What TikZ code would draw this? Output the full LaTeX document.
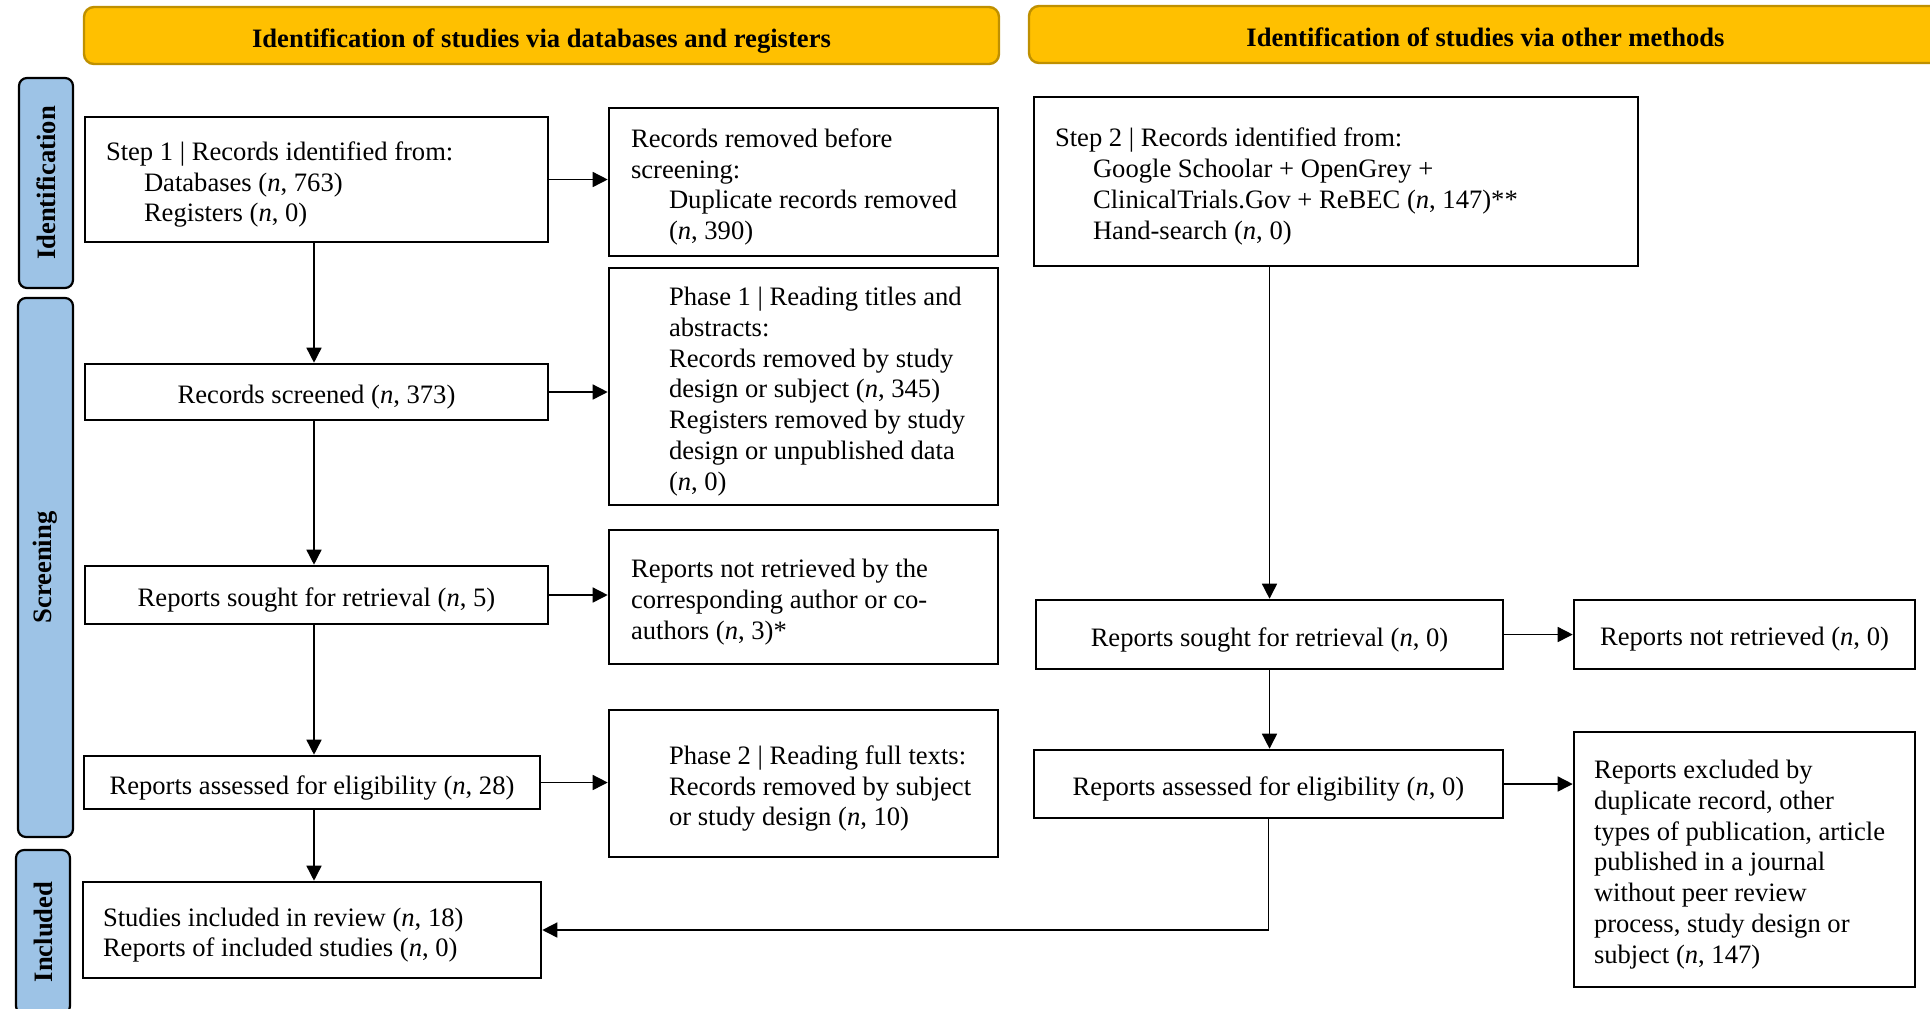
\documentclass[tikz,border=0pt]{standalone}
\usepackage{fontspec}
\setmainfont{Liberation Serif}
\usetikzlibrary{arrows.meta}
\definecolor{gold}{HTML}{FFC000}
\definecolor{goldedge}{HTML}{BF9000}
\definecolor{phase}{HTML}{9DC3E6}

% indentation of the sub-lines inside a box
\newcommand\ind{\hspace*{19pt}}
% box given by its corners (x1,y1)-(x2,y2) in pixel units and a left padding;
% the optional argument chooses the alignment of the lines
\newcommand\flowbox[8][\raggedright\leftskip=\fbp pt\relax]{%
  \pgfmathsetmacro\fbw{(#5-#3)*0.5}%
  \pgfmathsetmacro\fbh{(#6-#4)*0.5}%
  \pgfmathsetmacro\fbp{#7*0.5}%
  \node[flow] (#2) at ({(#3+#5)/2},{(#4+#6)/2})
    {\parbox[c][\fbh pt][c]{\fbw pt}{#1\vspace*{5pt}#8}};%
}

\begin{document}
\begin{tikzpicture}[x=0.5pt,y=-0.5pt,
  font=\fontsize{13.3}{15.4}\selectfont,
  flow/.style={draw=black, line width=1.3pt, rectangle, inner sep=0pt},
  header/.style={draw=goldedge, fill=gold, line width=1.2pt, rounded corners=5pt,
    inner sep=0pt, text height=11.5pt, text depth=0pt,
    font=\fontsize{13.3}{15.4}\selectfont\bfseries},
  stage/.style={draw=black, fill=phase, line width=1.1pt, rounded corners=4pt,
    inner sep=0pt, rotate=90, font=\fontsize{13.3}{15.4}\selectfont\bfseries},
  link/.style={line width=0.75pt, -{Triangle[length=7.5pt,width=7.5pt]}},
]
\clip (0,0) rectangle (1930,1008);
\useasboundingbox (0,0) rectangle (1930,1008);

% column headers
\node[header, minimum width=457.5pt, minimum height=28.5pt] (hdb) at (541.5,35.5)
  {Identification of studies via databases and registers};
\node[header, minimum width=456.5pt, minimum height=28.5pt] (hdo) at (1485.5,34.5)
  {Identification of studies via other methods};

% stage labels
\node[stage, minimum width=105pt, minimum height=27pt] (sid) at (46,183) {Identification};
\node[stage, minimum width=269.5pt, minimum height=27.5pt] (ssc) at (45.5,567.5) {Screening};
\node[stage, minimum width=82pt, minimum height=27pt] (sin) at (43,932) {Included};

% databases and registers
\flowbox{step1}{85}{117}{548}{242}{21}{Step 1 | Records identified from:\\
  \ind Databases (\textit{n}, 763)\\ \ind Registers (\textit{n}, 0)}
\flowbox{removed}{609}{108}{998}{256}{22}{Records removed before\\ screening:\\
  \ind Duplicate records removed\\ \ind (\textit{n}, 390)}
\flowbox{phase1}{609}{268}{998}{505}{22}{\ind Phase 1 | Reading titles and\\
  \ind abstracts:\\ \ind Records removed by study\\
  \ind design or subject (\textit{n}, 345)\\ \ind Registers removed by study\\
  \ind design or unpublished data\\ \ind (\textit{n}, 0)}
\flowbox[\centering]{screened}{85}{364}{548}{420}{0}{Records screened (\textit{n}, 373)}
\flowbox[\centering]{sought}{85}{566}{548}{624}{0}{Reports sought for retrieval (\textit{n}, 5)}
\flowbox{notret}{609}{530}{998}{664}{22}{Reports not retrieved by the\\
  corresponding author or co-\\ authors (\textit{n}, 3)*}
\flowbox[\centering]{assessed}{84}{756}{540}{809}{0}{Reports assessed for eligibility (\textit{n}, 28)}
\flowbox{phase2}{609}{710}{998}{857}{22}{\ind Phase 2 | Reading full texts:\\
  \ind Records removed by subject\\ \ind or study design (\textit{n}, 10)}
\flowbox{included}{83}{882}{541}{978}{20}{Studies included in review (\textit{n}, 18)\\
  Reports of included studies (\textit{n}, 0)}

% other methods
\flowbox{step2}{1034}{97}{1638}{266}{21}{Step 2 | Records identified from:\\
  \ind Google Schoolar + OpenGrey +\\
  \ind ClinicalTrials.Gov + ReBEC (\textit{n}, 147)**\\
  \ind Hand-search (\textit{n}, 0)}
\flowbox[\centering]{sought2}{1036}{600}{1503}{669}{0}{Reports sought for retrieval (\textit{n}, 0)}
\flowbox[\centering]{notret2}{1574}{600}{1915}{669}{0}{Reports not retrieved (\textit{n}, 0)}
\flowbox[\centering]{assessed2}{1034}{750}{1503}{818}{0}{Reports assessed for eligibility (\textit{n}, 0)}
\flowbox{excluded}{1574}{732}{1915}{987}{20}{Reports excluded by\\
  duplicate record, other\\ types of publication, article\\
  published in a journal\\ without peer review\\
  process, study design or\\ subject (\textit{n}, 147)}

% vertical line of the left column
\coordinate (spine) at (314,0);

% connectors, left column
\draw[link] (step1.south -| spine) -- (screened.north -| spine);
\draw[link] (screened.south -| spine) -- (sought.north -| spine);
\draw[link] (sought.south -| spine) -- (assessed.north -| spine);
\draw[link] (assessed.south -| spine) -- (included.north -| spine);
\draw[link] (step1.east) -- (step1.east -| removed.west);
\draw[link] (screened.east) -- (screened.east -| phase1.west);
\draw[link] (sought.east) -- (sought.east -| notret.west);
\draw[link] (assessed.east) -- (assessed.east -| phase2.west);

% connectors, right column
\draw[link] (step2.south -| sought2.north) -- (sought2.north);
\draw[link] (sought2.south) -- (sought2.south |- assessed2.north);
\draw[link] (sought2.east) -- (sought2.east -| notret2.west);
\draw[link] (assessed2.east) -- (assessed2.east -| excluded.west);
\draw[link] (assessed2.south) |- (included.east);
\end{tikzpicture}
\end{document}
